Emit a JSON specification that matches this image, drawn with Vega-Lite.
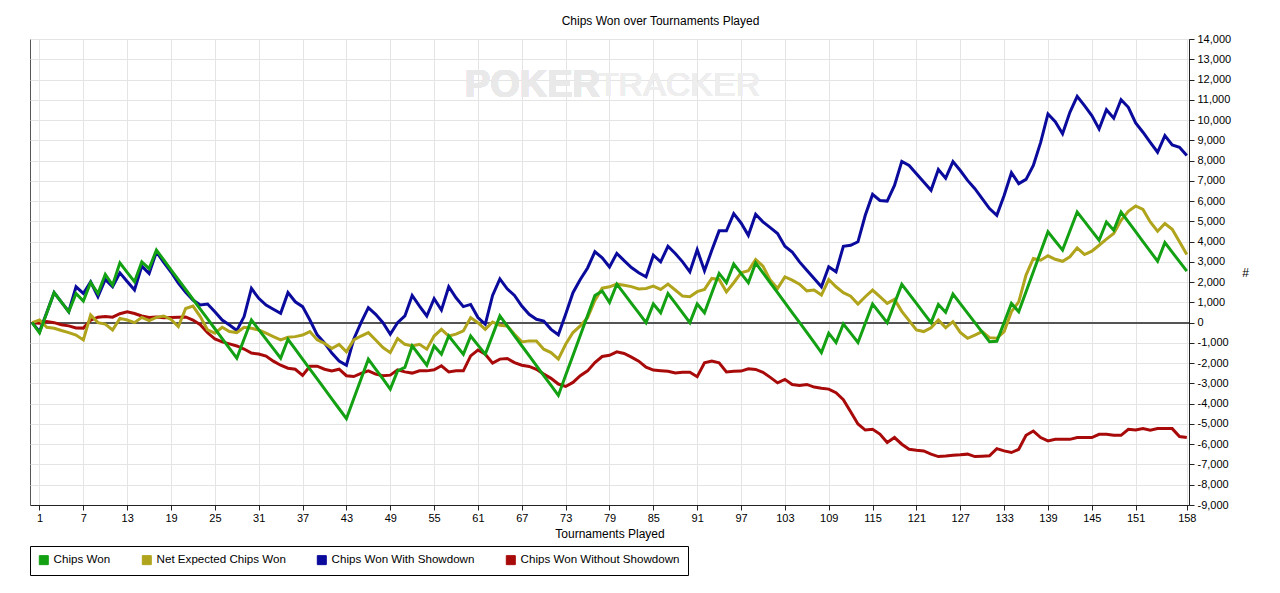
{
  "$schema": "https://vega.github.io/schema/vega-lite/v6.json",
  "autosize": {"type": "none"},
  "width": 1159,
  "height": 466,
  "padding": {"left": 30, "top": 39, "right": 91, "bottom": 88},
  "background": "white",
  "title": {
    "text": "Chips Won over Tournaments Played",
    "font": "Liberation Sans",
    "fontSize": 12,
    "fontWeight": "normal",
    "color": "black",
    "offset": 5,
    "dx": 51
  },
  "config": {
    "font": "Liberation Sans",
    "view": {"stroke": "#555", "strokeWidth": 1},
    "axis": {
      "labelFont": "Liberation Sans",
      "labelFontSize": 11,
      "labelColor": "black",
      "grid": true,
      "gridColor": "#e4e4e4",
      "gridWidth": 1,
      "domainColor": "#222",
      "tickColor": "#222",
      "tickSize": 5,
      "titleFont": "Liberation Sans",
      "titleFontWeight": "normal",
      "titleFontSize": 12,
      "titleColor": "black"
    }
  },
  "data": {
    "values": [
      {"t":0,"cw":0,"nx":0,"sd":0,"ns":0},
      {"t":1,"cw":-500,"nx":130,"sd":-450,"ns":-30},
      {"t":2,"cw":490,"nx":-230,"sd":500,"ns":50},
      {"t":3,"cw":1480,"nx":-280,"sd":1480,"ns":0},
      {"t":4,"cw":1010,"nx":-390,"sd":1010,"ns":-100},
      {"t":5,"cw":540,"nx":-490,"sd":540,"ns":-160},
      {"t":6,"cw":1440,"nx":-610,"sd":1770,"ns":-260},
      {"t":7,"cw":1070,"nx":-850,"sd":1440,"ns":-270},
      {"t":8,"cw":1980,"nx":380,"sd":2020,"ns":120},
      {"t":9,"cw":1440,"nx":0,"sd":1280,"ns":270},
      {"t":10,"cw":2380,"nx":-70,"sd":2130,"ns":300},
      {"t":11,"cw":1850,"nx":-360,"sd":1770,"ns":270},
      {"t":12,"cw":2950,"nx":210,"sd":2460,"ns":440},
      {"t":13,"cw":2480,"nx":130,"sd":2030,"ns":540},
      {"t":14,"cw":2020,"nx":0,"sd":1610,"ns":450},
      {"t":15,"cw":3000,"nx":260,"sd":2790,"ns":330},
      {"t":16,"cw":2670,"nx":100,"sd":2430,"ns":250},
      {"t":17,"cw":3580,"nx":260,"sd":3490,"ns":280},
      {"t":18,"cw":3095,"nx":330,"sd":2980,"ns":240},
      {"t":19,"cw":2610,"nx":160,"sd":2500,"ns":260},
      {"t":20,"cw":2125,"nx":-200,"sd":1950,"ns":270},
      {"t":21,"cw":1640,"nx":700,"sd":1500,"ns":280},
      {"t":22,"cw":1155,"nx":820,"sd":1115,"ns":130},
      {"t":23,"cw":670,"nx":300,"sd":870,"ns":-100},
      {"t":24,"cw":185,"nx":-360,"sd":920,"ns":-500},
      {"t":25,"cw":-300,"nx":-520,"sd":540,"ns":-800},
      {"t":26,"cw":-785,"nx":-230,"sd":130,"ns":-950},
      {"t":27,"cw":-1270,"nx":-440,"sd":-115,"ns":-1050},
      {"t":28,"cw":-1755,"nx":-490,"sd":-390,"ns":-1150},
      {"t":29,"cw":-810,"nx":-230,"sd":300,"ns":-1300},
      {"t":30,"cw":130,"nx":-280,"sd":1690,"ns":-1500},
      {"t":31,"cw":-340,"nx":-360,"sd":1200,"ns":-1550},
      {"t":32,"cw":-810,"nx":-520,"sd":870,"ns":-1650},
      {"t":33,"cw":-1280,"nx":-690,"sd":660,"ns":-1900},
      {"t":34,"cw":-1750,"nx":-850,"sd":460,"ns":-2100},
      {"t":35,"cw":-820,"nx":-720,"sd":1480,"ns":-2250},
      {"t":36,"cw":-1310,"nx":-690,"sd":1030,"ns":-2300},
      {"t":37,"cw":-1800,"nx":-610,"sd":790,"ns":-2600},
      {"t":38,"cw":-2290,"nx":-440,"sd":130,"ns":-2150},
      {"t":39,"cw":-2780,"nx":-850,"sd":-600,"ns":-2150},
      {"t":40,"cw":-3270,"nx":-1020,"sd":-1000,"ns":-2300},
      {"t":41,"cw":-3760,"nx":-1280,"sd":-1500,"ns":-2380},
      {"t":42,"cw":-4250,"nx":-1070,"sd":-1890,"ns":-2300},
      {"t":43,"cw":-4740,"nx":-1440,"sd":-2100,"ns":-2620},
      {"t":44,"cw":-3760,"nx":-850,"sd":-820,"ns":-2660},
      {"t":45,"cw":-2780,"nx":-660,"sd":0,"ns":-2500},
      {"t":46,"cw":-1800,"nx":-490,"sd":740,"ns":-2380},
      {"t":47,"cw":-2290,"nx":-860,"sd":410,"ns":-2540},
      {"t":48,"cw":-2780,"nx":-1230,"sd":0,"ns":-2620},
      {"t":49,"cw":-3280,"nx":-1480,"sd":-575,"ns":-2590},
      {"t":50,"cw":-2380,"nx":-790,"sd":0,"ns":-2330},
      {"t":51,"cw":-2210,"nx":-1070,"sd":330,"ns":-2430},
      {"t":52,"cw":-1150,"nx":-1150,"sd":1340,"ns":-2490},
      {"t":53,"cw":-1620,"nx":-1070,"sd":820,"ns":-2380},
      {"t":54,"cw":-2100,"nx":-1310,"sd":330,"ns":-2380},
      {"t":55,"cw":-1150,"nx":-660,"sd":1180,"ns":-2330},
      {"t":56,"cw":-1560,"nx":-330,"sd":620,"ns":-2130},
      {"t":57,"cw":-660,"nx":-660,"sd":1770,"ns":-2430},
      {"t":58,"cw":-1110,"nx":-570,"sd":1230,"ns":-2380},
      {"t":59,"cw":-1560,"nx":-410,"sd":790,"ns":-2380},
      {"t":60,"cw":-660,"nx":250,"sd":900,"ns":-1640},
      {"t":61,"cw":-1110,"nx":0,"sd":250,"ns":-1350},
      {"t":62,"cw":-1560,"nx":-330,"sd":-80,"ns":-1560},
      {"t":63,"cw":-615,"nx":30,"sd":1340,"ns":-2000},
      {"t":64,"cw":330,"nx":-130,"sd":2160,"ns":-1800},
      {"t":65,"cw":-160,"nx":-160,"sd":1670,"ns":-1770},
      {"t":66,"cw":-650,"nx":-570,"sd":1340,"ns":-1970},
      {"t":67,"cw":-1140,"nx":-950,"sd":820,"ns":-2100},
      {"t":68,"cw":-1630,"nx":-900,"sd":410,"ns":-2160},
      {"t":69,"cw":-2120,"nx":-900,"sd":165,"ns":-2300},
      {"t":70,"cw":-2610,"nx":-1310,"sd":80,"ns":-2540},
      {"t":71,"cw":-3100,"nx":-1480,"sd":-330,"ns":-2750},
      {"t":72,"cw":-3590,"nx":-1800,"sd":-600,"ns":-3030},
      {"t":73,"cw":-2600,"nx":-1070,"sd":410,"ns":-3150},
      {"t":74,"cw":-1620,"nx":-490,"sd":1480,"ns":-2950},
      {"t":75,"cw":-630,"nx":-160,"sd":2130,"ns":-2620},
      {"t":76,"cw":350,"nx":250,"sd":2700,"ns":-2380},
      {"t":77,"cw":1340,"nx":1100,"sd":3500,"ns":-1970},
      {"t":78,"cw":1560,"nx":1700,"sd":3200,"ns":-1670},
      {"t":79,"cw":1000,"nx":1770,"sd":2750,"ns":-1610},
      {"t":80,"cw":1900,"nx":1900,"sd":3420,"ns":-1440},
      {"t":81,"cw":1430,"nx":1850,"sd":3060,"ns":-1520},
      {"t":82,"cw":950,"nx":1780,"sd":2720,"ns":-1700},
      {"t":83,"cw":480,"nx":1660,"sd":2460,"ns":-1900},
      {"t":84,"cw":0,"nx":1690,"sd":2260,"ns":-2200},
      {"t":85,"cw":920,"nx":1800,"sd":3330,"ns":-2340},
      {"t":86,"cw":490,"nx":1640,"sd":3000,"ns":-2370},
      {"t":87,"cw":1440,"nx":1900,"sd":3770,"ns":-2400},
      {"t":88,"cw":960,"nx":1610,"sd":3410,"ns":-2480},
      {"t":89,"cw":480,"nx":1310,"sd":3000,"ns":-2450},
      {"t":90,"cw":0,"nx":1280,"sd":2510,"ns":-2450},
      {"t":91,"cw":920,"nx":1530,"sd":3600,"ns":-2670},
      {"t":92,"cw":490,"nx":1640,"sd":2560,"ns":-1980},
      {"t":93,"cw":1460,"nx":2180,"sd":3570,"ns":-1900},
      {"t":94,"cw":2430,"nx":2130,"sd":4530,"ns":-1980},
      {"t":95,"cw":1970,"nx":1520,"sd":4530,"ns":-2430},
      {"t":96,"cw":2890,"nx":1970,"sd":5380,"ns":-2400},
      {"t":97,"cw":2430,"nx":2460,"sd":4920,"ns":-2390},
      {"t":98,"cw":1970,"nx":2560,"sd":4310,"ns":-2280},
      {"t":99,"cw":2950,"nx":3120,"sd":5350,"ns":-2310},
      {"t":100,"cw":2460,"nx":2790,"sd":4970,"ns":-2450},
      {"t":101,"cw":1970,"nx":2100,"sd":4690,"ns":-2700},
      {"t":102,"cw":1480,"nx":1690,"sd":4400,"ns":-2970},
      {"t":103,"cw":990,"nx":2260,"sd":3770,"ns":-2800},
      {"t":104,"cw":500,"nx":2100,"sd":3490,"ns":-3050},
      {"t":105,"cw":10,"nx":1900,"sd":3000,"ns":-3100},
      {"t":106,"cw":-480,"nx":1570,"sd":2590,"ns":-3050},
      {"t":107,"cw":-970,"nx":1610,"sd":2180,"ns":-3180},
      {"t":108,"cw":-1480,"nx":1360,"sd":1770,"ns":-3240},
      {"t":109,"cw":-520,"nx":2130,"sd":2760,"ns":-3280},
      {"t":110,"cw":-980,"nx":1770,"sd":2510,"ns":-3460},
      {"t":111,"cw":-65,"nx":1480,"sd":3770,"ns":-3800},
      {"t":112,"cw":-520,"nx":1310,"sd":3820,"ns":-4400},
      {"t":113,"cw":-980,"nx":920,"sd":3990,"ns":-5000},
      {"t":114,"cw":-30,"nx":1280,"sd":5300,"ns":-5300},
      {"t":115,"cw":920,"nx":1610,"sd":6330,"ns":-5260},
      {"t":116,"cw":460,"nx":1280,"sd":6030,"ns":-5500},
      {"t":117,"cw":0,"nx":950,"sd":6000,"ns":-5920},
      {"t":118,"cw":950,"nx":1150,"sd":6770,"ns":-5670},
      {"t":119,"cw":1890,"nx":560,"sd":7960,"ns":-6000},
      {"t":120,"cw":1420,"nx":100,"sd":7760,"ns":-6250},
      {"t":121,"cw":950,"nx":-360,"sd":7350,"ns":-6300},
      {"t":122,"cw":470,"nx":-440,"sd":6940,"ns":-6330},
      {"t":123,"cw":0,"nx":-250,"sd":6530,"ns":-6490},
      {"t":124,"cw":900,"nx":130,"sd":7560,"ns":-6610},
      {"t":125,"cw":510,"nx":-250,"sd":7130,"ns":-6580},
      {"t":126,"cw":1410,"nx":50,"sd":7950,"ns":-6540},
      {"t":127,"cw":940,"nx":-480,"sd":7510,"ns":-6520},
      {"t":128,"cw":470,"nx":-770,"sd":7020,"ns":-6490},
      {"t":129,"cw":0,"nx":-610,"sd":6610,"ns":-6610},
      {"t":130,"cw":-470,"nx":-440,"sd":6120,"ns":-6590},
      {"t":131,"cw":-940,"nx":-740,"sd":5630,"ns":-6570},
      {"t":132,"cw":-920,"nx":-770,"sd":5300,"ns":-6220},
      {"t":133,"cw":0,"nx":-440,"sd":6280,"ns":-6330},
      {"t":134,"cw":950,"nx":540,"sd":7400,"ns":-6410},
      {"t":135,"cw":540,"nx":1030,"sd":6860,"ns":-6250},
      {"t":136,"cw":1530,"nx":2350,"sd":7070,"ns":-5560},
      {"t":137,"cw":2510,"nx":3170,"sd":7760,"ns":-5350},
      {"t":138,"cw":3500,"nx":3080,"sd":8900,"ns":-5670},
      {"t":139,"cw":4480,"nx":3300,"sd":10300,"ns":-5840},
      {"t":140,"cw":4030,"nx":3130,"sd":9920,"ns":-5760},
      {"t":141,"cw":3580,"nx":3030,"sd":9320,"ns":-5760},
      {"t":142,"cw":4520,"nx":3250,"sd":10380,"ns":-5760},
      {"t":143,"cw":5460,"nx":3690,"sd":11170,"ns":-5670},
      {"t":144,"cw":5000,"nx":3360,"sd":10710,"ns":-5670},
      {"t":145,"cw":4530,"nx":3530,"sd":10220,"ns":-5670},
      {"t":146,"cw":4070,"nx":3820,"sd":9560,"ns":-5510},
      {"t":147,"cw":4970,"nx":4120,"sd":10510,"ns":-5510},
      {"t":148,"cw":4560,"nx":4400,"sd":10090,"ns":-5560},
      {"t":149,"cw":5460,"nx":5050,"sd":11000,"ns":-5560},
      {"t":150,"cw":4970,"nx":5490,"sd":10630,"ns":-5260},
      {"t":151,"cw":4490,"nx":5760,"sd":9860,"ns":-5300},
      {"t":152,"cw":4000,"nx":5590,"sd":9400,"ns":-5230},
      {"t":153,"cw":3520,"nx":4970,"sd":8900,"ns":-5310},
      {"t":154,"cw":3030,"nx":4510,"sd":8410,"ns":-5230},
      {"t":155,"cw":3950,"nx":4890,"sd":9230,"ns":-5230},
      {"t":156,"cw":3480,"nx":4610,"sd":8770,"ns":-5230},
      {"t":157,"cw":3010,"nx":3990,"sd":8660,"ns":-5620},
      {"t":158,"cw":2540,"nx":3360,"sd":8250,"ns":-5670}
    ]
  },
  "encoding": {
    "x": {
      "type": "quantitative",
      "scale": {"domain": [-0.3, 158.3], "nice": false, "zero": false},
      "axis": {
        "values": [1,7,13,19,25,31,37,43,49,55,61,67,73,79,85,91,97,103,109,115,121,127,133,139,145,151,158],
        "title": "Tournaments Played",
        "titlePadding": 5,
        "labelFlush": false,
        "labelPadding": 2
      }
    },
    "y": {
      "type": "quantitative",
      "scale": {"domain": [-9000, 14000], "nice": false, "zero": false},
      "axis": {
        "orient": "right",
        "values": [-9000,-8000,-7000,-6000,-5000,-4000,-3000,-2000,-1000,0,1000,2000,3000,4000,5000,6000,7000,8000,9000,10000,11000,12000,13000,14000],
        "labelExpr": "replace(format(datum.value, ','), '\u2212', '-')",
        "labelPadding": 3,
        "title": "#",
        "titleAngle": 0,
        "titleAlign": "center",
        "titleBaseline": "middle",
        "titleX": 56,
        "titleY": 233
      }
    }
  },
  "layer": [
    {
      "mark": {"type": "text", "text": "POKER", "font": "Liberation Sans", "fontSize": 38, "fontWeight": "bold", "color": "#e9e9e9", "align": "left", "baseline": "middle"},
      "encoding": {"x": {"datum": 59.2}, "y": {"datum": 11680}}
    },
    {
      "mark": {"type": "text", "text": "TRACKER", "font": "Liberation Sans", "fontSize": 34, "fontWeight": "normal", "color": "#eeeeee", "align": "left", "baseline": "middle"},
      "encoding": {"x": {"datum": 77.4}, "y": {"datum": 11680}}
    },
    {
      "mark": {"type": "rule", "color": "#555", "strokeWidth": 1.5},
      "encoding": {"y": {"datum": 0}}
    },
    {
      "transform": [{"fold": ["ns", "sd", "nx", "cw"], "as": ["series", "value"]}],
      "mark": {"type": "line", "strokeWidth": 3, "strokeJoin": "miter"},
      "encoding": {
        "x": {"field": "t", "type": "quantitative"},
        "y": {"field": "value", "type": "quantitative"},
        "color": {
          "field": "series",
          "type": "nominal",
          "scale": {
            "domain": ["cw", "nx", "sd", "ns"],
            "range": ["#13a013", "#b0a41c", "#0a0a9c", "#a80a0a"]
          },
          "legend": {
            "orient": "none",
            "legendX": 0,
            "legendY": 507,
            "direction": "horizontal",
            "title": null,
            "strokeColor": "black",
            "fillColor": "white",
            "padding": 8,
            "symbolType": "square",
            "symbolSize": 81,
            "symbolStrokeWidth": 1,
            "symbolOpacity": 1,
            "labelFont": "Liberation Sans",
            "labelFontSize": 11.6,
            "labelColor": "black",
            "labelOffset": 4,
            "columnPadding": 29,
            "labelLimit": 300,
            "labelExpr": "{'cw': 'Chips Won', 'nx': 'Net Expected Chips Won', 'sd': 'Chips Won With Showdown', 'ns': 'Chips Won Without Showdown'}[datum.label]",
            "encode": {
              "symbols": {
                "update": {
                  "fill": {"scale": "color", "field": "value"},
                  "stroke": {"value": "#111"},
                  "strokeWidth": {"value": 1}
                }
              }
            }
          }
        }
      }
    }
  ]
}
